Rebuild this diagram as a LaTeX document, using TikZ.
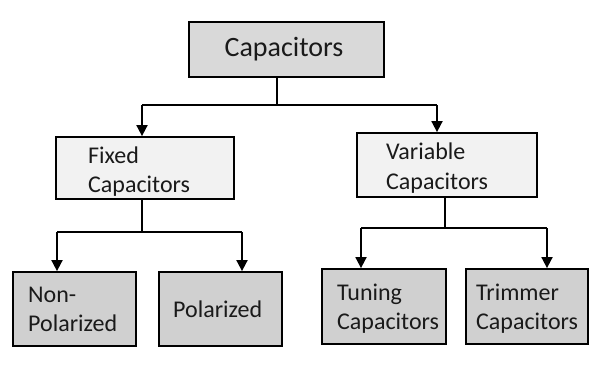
\documentclass[tikz,border=0pt]{standalone}
\usepackage{fontspec}
\setmainfont{Carlito}
\usetikzlibrary{arrows.meta}
\definecolor{topfill}{HTML}{D9D9D9}
\definecolor{midfill}{HTML}{F2F2F2}
\definecolor{lowfill}{HTML}{D0D0D0}
\definecolor{ink}{HTML}{1A1A1A}
\tikzset{
  box/.style={draw=black, line width=1.8pt, inner sep=0pt},
  lbl/.style={anchor=base west, inner sep=0pt, text=ink, font=\fontsize{24}{29}\selectfont},
  conn/.style={line width=1.8pt, draw=black},
  arr/.style={conn, -{Triangle[width=11pt,length=11pt]}}
}
\begin{document}
\begin{tikzpicture}[x=1pt,y=-1pt]
\useasboundingbox (0,0) rectangle (600,365);
% boxes
\node[box, fill=topfill, minimum width=195pt, minimum height=55pt] (top) at (286.5,49.5) {};
\node[box, fill=midfill, minimum width=178pt, minimum height=62pt] (fixed) at (145,168) {};
\node[box, fill=midfill, minimum width=180pt, minimum height=64pt] (variable) at (447,165) {};
\node[box, fill=lowfill, minimum width=123pt, minimum height=74pt] (nonpol) at (74.5,309) {};
\node[box, fill=lowfill, minimum width=123pt, minimum height=74pt] (pol) at (220.5,309) {};
\node[box, fill=lowfill, minimum width=124pt, minimum height=75pt] (tuning) at (384,306.5) {};
\node[box, fill=lowfill, minimum width=122pt, minimum height=75pt] (trimmer) at (527,306.5) {};
% labels
\node[anchor=base, inner sep=0pt, text=ink, font=\fontsize{28}{34}\selectfont] (toptxt) at (284,56.5) {Capacitors};
\node[lbl] (fx1) at (88,163) {Fixed};
\node[lbl] (fx2) at (88,192) {Capacitors};
\node[lbl] (va1) at (386,159) {Variable};
\node[lbl] (va2) at (386,189) {Capacitors};
\node[lbl] (np1) at (28,302) {Non-};
\node[lbl] (np2) at (28,331) {Polarized};
\node[lbl] (po1) at (173,317) {Polarized};
\node[lbl] (tu1) at (337,300) {Tuning};
\node[lbl] (tu2) at (337,329) {Capacitors};
\node[lbl] (tr1) at (476,300) {Trimmer};
\node[lbl] (tr2) at (476,329) {Capacitors};
% junctions
\coordinate (j1) at (277,105);
\coordinate (fa) at (142,105);
\coordinate (va) at (437,105);
\coordinate (j2) at (142,232);
\coordinate (na) at (57,232);
\coordinate (pa) at (242,232);
\coordinate (j3) at (445,228);
\coordinate (ta) at (361,228);
\coordinate (ra) at (547,228);
% connectors
\draw[conn] (top.south -| j1) -- (j1);
\draw[conn] (fa) -- (va);
\draw[arr] (fa) -- (fixed.north -| fa);
\draw[arr] (va) -- (variable.north -| va);
\draw[conn] (fixed.south -| j2) -- (j2);
\draw[conn] (na) -- (pa);
\draw[arr] (na) -- (nonpol.north -| na);
\draw[arr] (pa) -- (pol.north -| pa);
\draw[conn] (variable.south -| j3) -- (j3);
\draw[conn] (ta) -- (ra);
\draw[arr] (ta) -- (tuning.north -| ta);
\draw[arr] (ra) -- (trimmer.north -| ra);
\end{tikzpicture}
\end{document}
